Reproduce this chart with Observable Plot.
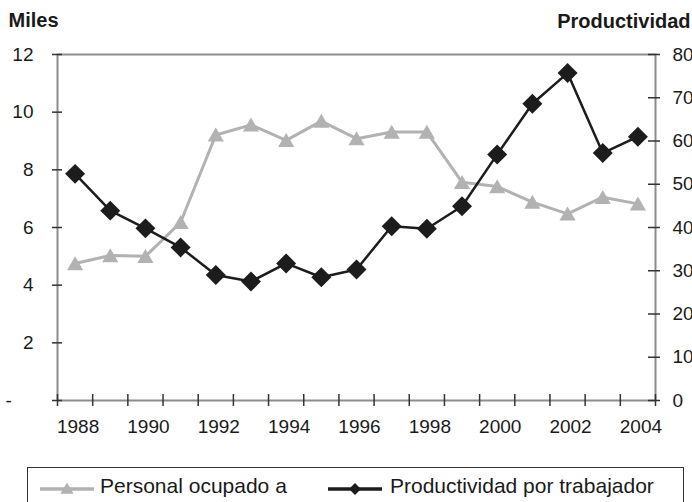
<!DOCTYPE html>
<html>
<head>
<meta charset="utf-8">
<script src="https://cdn.jsdelivr.net/npm/d3@7"></script>
<script src="https://cdn.jsdelivr.net/npm/@observablehq/plot@0.6"></script>
<style>
  body { margin: 0; background: #fff; font-family: "Liberation Sans", Arial, sans-serif; }
  #wrap { position: relative; width: 692px; height: 502px; overflow: hidden; background: #fff; }
  #chart { position: absolute; left: 0; top: 0; }
  #legend { position: absolute; left: 27px; top: 467px; width: 657px; height: 70px; border: 1.5px solid #333; box-sizing: border-box; }
  .lg-item { position: absolute; top: 7px; height: 21px; line-height: 21px; font-size: 21px; color: #1a1a1a; white-space: nowrap; }
  .lg-sw { position: absolute; top: 11px; }
</style>
</head>
<body>
<div id="wrap">
  <div id="chart"></div>
  <div id="legend"></div>
</div>
<script>
// ---- Data ----
const years = [1988, 1989, 1990, 1991, 1992, 1993, 1994, 1995, 1996, 1997, 1998, 1999, 2000, 2001, 2002, 2003, 2004];
const personal = [4.75, 5.03, 5.0, 6.18, 9.21, 9.56, 9.02, 9.69, 9.08, 9.31, 9.31, 7.57, 7.42, 6.88, 6.47, 7.05, 6.82];
const productividad = [52.4, 43.9, 39.8, 35.4, 29.0, 27.5, 31.7, 28.5, 30.3, 40.3, 39.7, 44.9, 56.9, 68.6, 75.7, 57.2, 61.0];
const leftTicks = [0, 2, 4, 6, 8, 10, 12];
const rightTicks = [0, 10, 20, 30, 40, 50, 60, 70, 80];
const yearLabels = [1988, 1990, 1992, 1994, 1996, 1998, 2000, 2002, 2004];
const seriesNames = ["Personal ocupado a", "Productividad por trabajador"];
const leftTitle = "Miles";
const rightTitle = "Productividad";

// ---- Derived ----
const leftMax = leftTicks[leftTicks.length - 1];
const rightMax = rightTicks[rightTicks.length - 1];
const ratio = leftMax / rightMax;
const rows = years.map((y, i) => ({year: y, personal: personal[i], prod: productividad[i]}));
const boundaries = years.map(y => y - 0.5).concat([years[years.length - 1] + 0.5]);

const W = 692, H = 440, mT = 54, mB = 40, mL = 57, mR = 37;
const pw = W - mL - mR, ph = H - mT - mB;
const grayC = "#b2b2b2", blackC = "#1c1c1c", axisC = "#8c8c8c", tickC = "#333";

const chart = Plot.plot({
  width: W, height: H,
  marginTop: mT, marginBottom: mB, marginLeft: mL, marginRight: mR,
  x: {domain: [boundaries[0], boundaries[boundaries.length - 1]]},
  y: {domain: [0, leftMax]},
  style: {fontFamily: '"Liberation Sans", Arial, sans-serif', fontSize: "19px", color: "#1a1a1a", background: "transparent", overflow: "visible"},
  marks: [
    Plot.frame({stroke: axisC, strokeWidth: 2}),
    // crossing tick marks
    Plot.tickX(boundaries, {x: d => d, insetTop: ph - 6, insetBottom: -6, stroke: tickC, strokeWidth: 1.5}),
    Plot.tickY(leftTicks, {y: d => d, insetLeft: -5, insetRight: pw - 5, stroke: tickC, strokeWidth: 1.5}),
    Plot.tickY(rightTicks, {y: d => d * ratio, insetLeft: pw - 7, insetRight: -5, stroke: tickC, strokeWidth: 1.5}),
    // axes labels
    Plot.axisX(yearLabels, {tickSize: 0, tickPadding: 19, tickFormat: "d", fontSize: 19, dx: 3, label: null}),
    Plot.axisY(leftTicks, {anchor: "left", tickSize: 0, tickPadding: 24, tickFormat: d => d === 0 ? "" : String(d), fontSize: 19, label: null}),
    Plot.text(["-"], {frameAnchor: "bottom-left", lineAnchor: "middle", dx: -52, textAnchor: "start", fontSize: 19}),
    Plot.axisY(rightTicks.map(v => v * ratio), {anchor: "right", tickSize: 0, tickPadding: 17, tickFormat: d => String(Math.round(d / ratio)), fontSize: 19, label: null}),
    // titles
    Plot.text([leftTitle], {frameAnchor: "top-left", lineAnchor: "middle", dx: -49, dy: -34, textAnchor: "start", fontSize: 20, fontWeight: "bold"}),
    Plot.text([rightTitle], {frameAnchor: "top-right", lineAnchor: "middle", dx: 35, dy: -33, textAnchor: "end", fontSize: 20, fontWeight: "bold"}),
    // series
    Plot.line(rows, {x: "year", y: "personal", stroke: grayC, strokeWidth: 3}),
    Plot.dot(rows, {x: "year", y: "personal", symbol: "triangle", r: 6, fill: grayC, dy: 2}),
    Plot.line(rows, {x: "year", y: d => d.prod * ratio, stroke: blackC, strokeWidth: 2.5}),
    Plot.dot(rows, {x: "year", y: d => d.prod * ratio, symbol: "diamond2", r: 9, fill: blackC})
  ]
});
document.getElementById("chart").appendChild(chart);

// ---- Legend ----
const legend = document.getElementById("legend");
function swatch(color, sw, symbol, size, left) {
  const ns = "http://www.w3.org/2000/svg";
  const svg = document.createElementNS(ns, "svg");
  svg.setAttribute("width", 56); svg.setAttribute("height", 20);
  svg.setAttribute("class", "lg-sw");
  svg.style.left = left + "px";
  const line = document.createElementNS(ns, "line");
  line.setAttribute("x1", 0); line.setAttribute("x2", 54);
  line.setAttribute("y1", 10); line.setAttribute("y2", 10);
  line.setAttribute("stroke", color); line.setAttribute("stroke-width", sw);
  svg.appendChild(line);
  const p = document.createElementNS(ns, "path");
  p.setAttribute("d", d3.symbol(symbol, size)());
  p.setAttribute("transform", symbol === d3.symbolTriangle ? "translate(27,11)" : "translate(27,10)");
  p.setAttribute("fill", color);
  svg.appendChild(p);
  legend.appendChild(svg);
}
swatch(grayC, 3.5, d3.symbolTriangle, 75, 12);
swatch(blackC, 3.5, d3.symbolDiamond2, 90, 300);
const t1 = document.createElement("div");
t1.className = "lg-item"; t1.style.left = "72px"; t1.textContent = seriesNames[0];
legend.appendChild(t1);
const t2 = document.createElement("div");
t2.className = "lg-item"; t2.style.left = "362px"; t2.textContent = seriesNames[1];
legend.appendChild(t2);
</script>
</body>
</html>
